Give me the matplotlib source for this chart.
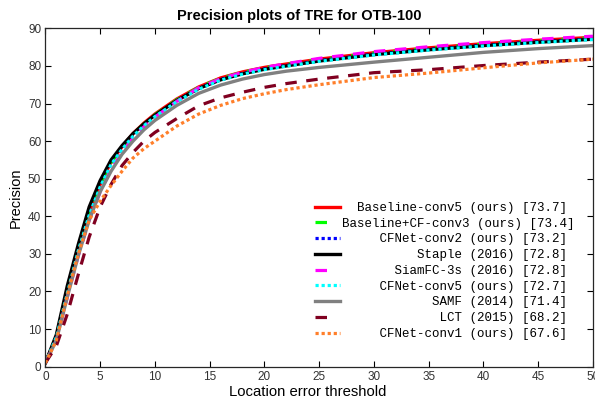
import matplotlib.pyplot as plt
from matplotlib.lines import Line2D
import numpy as np

# location error thresholds (x) and precision values
thr = [0, 1, 2, 3, 4, 5, 6, 7, 8, 9, 10, 12, 14, 16, 18, 20, 22, 25, 30, 35, 40, 45, 50]

baseline_conv5 = [1, 8, 20, 31.5, 41, 48.5, 54.5, 58.5, 62, 64.8, 67.2, 71.2, 74.4, 76.8, 78.4, 79.6, 80.5, 81.8, 83.5, 84.8, 85.9, 86.8, 87.6]
baseline_cf_conv3 = [1, 7.8, 19.8, 31.2, 40.7, 48.2, 54.2, 58.3, 61.8, 64.6, 67.0, 71.0, 74.3, 76.7, 78.3, 79.5, 80.4, 81.7, 83.4, 84.7, 85.8, 86.7, 87.5]
cfnet_conv2 = [1, 7.8, 19.6, 31, 40.5, 48, 54, 58, 61.5, 64.3, 66.7, 70.7, 74.0, 76.4, 78.0, 79.2, 80.1, 81.4, 83.1, 84.4, 85.5, 86.4, 87.2]
staple = [1, 8.5, 21.5, 32.5, 42.5, 49.5, 55, 58.8, 62, 64.6, 66.9, 70.8, 74.0, 76.3, 77.9, 79.1, 80.0, 81.3, 83.0, 84.3, 85.4, 86.3, 87.1]
siamfc_3s = [1, 7, 18.5, 29.5, 39, 46.5, 52.5, 57, 60.8, 63.8, 66.4, 70.6, 74.2, 76.6, 78.3, 79.6, 80.6, 82.0, 83.8, 85.1, 86.2, 87.1, 87.9]
cfnet_conv5 = [1, 7.8, 19.5, 30.8, 40.3, 47.8, 53.8, 57.8, 61.3, 64.1, 66.5, 70.5, 73.8, 76.2, 77.8, 79.0, 79.9, 81.2, 82.9, 84.2, 85.3, 86.2, 87.0]
samf = [1, 7, 18.5, 29.5, 39, 46.5, 52, 56.5, 60, 63, 65.5, 69.5, 72.7, 74.9, 76.5, 77.7, 78.6, 79.6, 81.0, 82.3, 83.6, 84.6, 85.4]
lct = [1, 5.5, 14, 24.5, 34.5, 42.5, 48.5, 53.5, 57, 60, 62.3, 66, 69.4, 71.5, 73, 74.3, 75.3, 76.5, 78.2, 79.0, 80.1, 81.0, 81.8]
cfnet_conv1 = [1, 7, 19, 30, 39, 44, 48.2, 52, 55.5, 58, 60, 64, 67.2, 69.5, 71.3, 72.6, 73.7, 75.0, 76.9, 78.1, 79.5, 80.8, 81.8]

labels = [
    "Baseline-conv5 (ours) [73.7]",
    "Baseline+CF-conv3 (ours) [73.4]",
    "CFNet-conv2 (ours) [73.2]",
    "Staple (2016) [72.8]",
    "SiamFC-3s (2016) [72.8]",
    "CFNet-conv5 (ours) [72.7]",
    "SAMF (2014) [71.4]",
    "LCT (2015) [68.2]",
    "CFNet-conv1 (ours) [67.6]",
]
series = [baseline_conv5, baseline_cf_conv3, cfnet_conv2, staple, siamfc_3s,
          cfnet_conv5, samf, lct, cfnet_conv1]
colors = ["#ff0000", "#00ff00", "#0000ff", "#000000", "#ff00ff",
          "#00ffff", "#808080", "#800020", "#ff7f2a"]
styles = ["solid", "dashed", "dotted", "solid", "dashed",
          "dotted", "solid", "dashed", "dotted"]

plt.rcParams['font.family'] = ['Liberation Sans', 'DejaVu Sans']

fig = plt.figure(figsize=(5.95, 4.05), dpi=100)
ax = fig.add_axes([0.0763, 0.0946, 0.9203, 0.8355])

handles = []
for y, c, st in zip(series, colors, styles):
    if st == "solid":
        ax.plot(thr, y, color=c, lw=2.4)
        handles.append(Line2D([], [], color=c, lw=2.4))
    elif st == "dashed":
        ax.plot(thr, y, color=c, lw=2.3, dashes=(3.6, 3.0))
        handles.append(Line2D([], [], color=c, lw=2.3, dashes=(3.6, 10)))
    else:
        ax.plot(thr, y, color=c, lw=2.3, dashes=(1, 0.9))
        handles.append(Line2D([], [], color=c, lw=2.3, dashes=(1, 0.9)))

ax.set_xlim(0, 50)
ax.set_ylim(0, 90)
ax.set_xticks(np.arange(0, 51, 5))
ax.set_yticks(np.arange(0, 91, 10))
ax.tick_params(direction='in', top=True, right=True, length=4, width=0.8,
               labelsize=8.5, labelcolor='0.2', pad=3)
for s in ax.spines.values():
    s.set_linewidth(0.9)
    s.set_color('0.15')

ax.set_xlabel("Location error threshold", fontsize=10.7, labelpad=1)
ax.xaxis.set_label_coords(0.479, -0.055)
ax.set_ylabel("Precision", fontsize=10.5, labelpad=4)
ax.set_title("Precision plots of TRE for OTB-100", fontsize=10.5,
             fontweight='bold', x=0.463, pad=6)

ax.legend(handles, [l.rjust(30) for l in labels],
          loc='upper left', bbox_to_anchor=(0.492, 0.487), frameon=False,
          prop={'family': 'Liberation Mono', 'size': 9},
          handlelength=2.0, handletextpad=0.15, labelspacing=0.3,
          borderpad=0, borderaxespad=0)

fig.savefig("out.png", dpi=100)
